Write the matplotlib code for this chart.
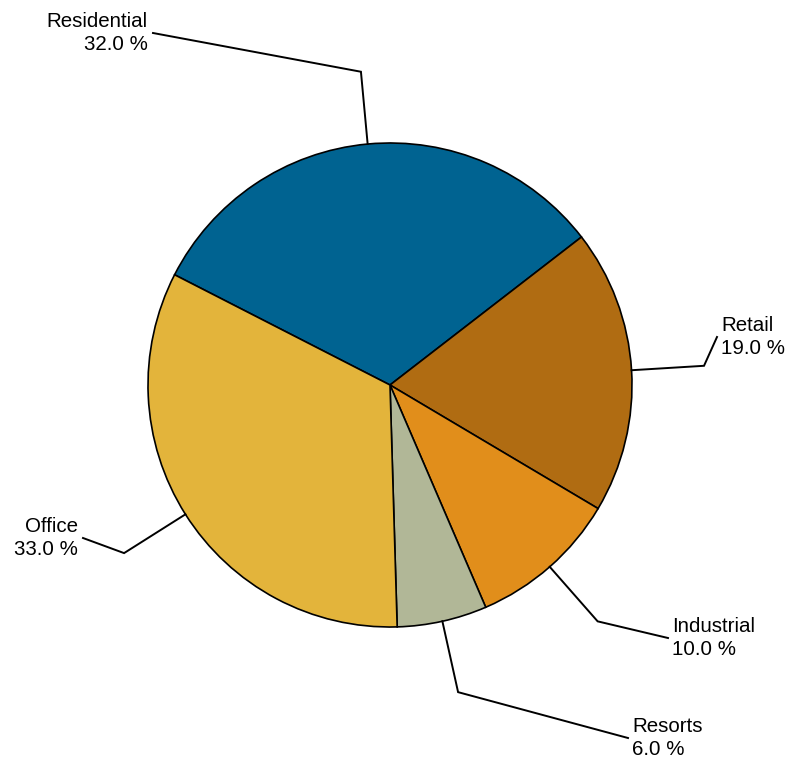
import numpy as np
import matplotlib
matplotlib.use("Agg")
import matplotlib.pyplot as plt
from matplotlib import font_manager

# data
labels = ["Residential", "Retail", "Industrial", "Resorts", "Office"]
shares = [32.0, 19.0, 10.0, 6.0, 33.0]
colors = ["#006391", "#b06c12", "#e18e1b", "#b1b797", "#e3b43b"]

# where each leader line ends (pixels from top-left) and text alignment
label_ends = [(153, 33), (717, 337), (668, 638), (628, 738), (83, 538)]
label_ha = ["right", "left", "left", "left", "right"]

names = {f.name for f in font_manager.fontManager.ttflist}
family = "Liberation Sans Narrow" if "Liberation Sans Narrow" in names else "Liberation Sans"
plt.rcParams["font.family"] = [family, "DejaVu Sans"]
fsize = 18 if family == "Liberation Sans Narrow" else 14.8

W, H = 789, 767
fig = plt.figure(figsize=(W / 100, H / 100), dpi=100)
ax = fig.add_axes([0, 0, 1, 1])

cx, cy, r = 390, H - 385, 242
start = 152.9
wedges, _ = ax.pie(shares, colors=colors, startangle=start, counterclock=False,
                   center=(cx, cy), radius=r, frame=True,
                   wedgeprops=dict(edgecolor="black", linewidth=1.2))
ax.set_xlim(0, W)
ax.set_ylim(0, H)
ax.axis("off")

for w, lab, val, end, ha in zip(wedges, labels, shares, label_ends, label_ha):
    mid = np.deg2rad((w.theta1 + w.theta2) / 2)
    x0, y0 = cx + r * np.cos(mid), cy + r * np.sin(mid)
    x1, y1 = cx + 1.3 * r * np.cos(mid), cy + 1.3 * r * np.sin(mid)
    ex, ey = end[0], H - end[1]
    ax.plot([x0, x1, ex], [y0, y1, ey], color="black", lw=1.4, solid_joinstyle="miter")
    tx = ex - 5 if ha == "right" else ex + 4
    ax.text(tx, ey, f"{lab}\n{val:.1f} %", ha=ha, va="center", fontsize=fsize,
            multialignment=ha, linespacing=1.25, color="black")

fig.savefig("out.png", dpi=100)
